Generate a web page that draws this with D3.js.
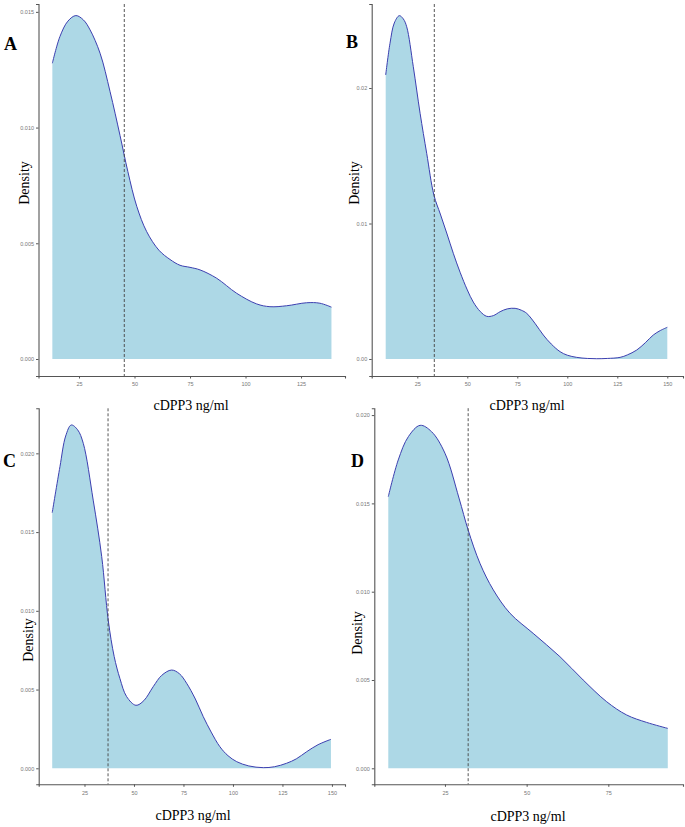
<!DOCTYPE html>
<html>
<head>
<meta charset="utf-8">
<script src="https://d3js.org/d3.v7.min.js"></script>
<style>
  body { margin: 0; background: #fff; }
  .tick text { font-family: "Liberation Sans", Arial, sans-serif; }
</style>
</head>
<body>
<svg id="fig" width="685" height="827"></svg>
<script>
// density curves (x = cDPP3 ng/ml, y = density)
var aX = [13, 16.4, 20, 23.6, 27, 30, 34.5, 39, 43.5, 47, 51, 55.5, 61, 66, 70.5, 75, 79.5, 87, 96, 105, 111, 118.5, 127.5, 133.5, 138.7];
var aY = [0.01278, 0.01393, 0.0146, 0.01484, 0.01465, 0.01422, 0.01321, 0.01155, 0.00965, 0.0081, 0.0066, 0.0055, 0.0047, 0.0043, 0.00405, 0.00396, 0.00385, 0.00349, 0.00284, 0.00238, 0.00226, 0.0023, 0.00243, 0.00241, 0.00224];

var bX = [9.2, 11.35, 13.5, 16, 18, 19.7, 23, 26.4, 29.7, 33.3, 36.5, 39.7, 43, 46.4, 50, 53, 56.5, 59.7, 63, 66.4, 70, 73.9, 77, 79.7, 84, 88, 92, 96.4, 100, 104.7, 110, 114.7, 120, 126.4, 130, 134.7, 139, 143, 146.5, 150];
var bY = [0.02096, 0.0233, 0.0248, 0.02534, 0.0251, 0.02452, 0.02157, 0.01813, 0.01518, 0.0121, 0.0107, 0.0093, 0.0078, 0.0064, 0.0051, 0.0042, 0.0035, 0.00315, 0.0032, 0.00349, 0.0037, 0.00374, 0.0036, 0.00337, 0.0026, 0.00177, 0.0011, 0.00054, 0.00028, 0.00012, 0.00004, 0.00002, 0.00004, 0.00012, 0.0003, 0.00066, 0.0012, 0.00177, 0.0021, 0.00234];

var cX = [8.7, 12.6, 15.5, 18.3, 21.5, 24.4, 29.4, 33.7, 37, 40, 42.9, 46.3, 51, 55, 59.7, 64, 69, 73, 76.6, 81, 85, 89, 93.4, 97.5, 101.9, 108, 115.3, 121, 127.1, 132, 137.2, 143, 149.5];
var cY = [0.01623, 0.01915, 0.0211, 0.0218, 0.0215, 0.02063, 0.01703, 0.01344, 0.0094, 0.0071, 0.0057, 0.00455, 0.0040, 0.0043, 0.00518, 0.0059, 0.00624, 0.006, 0.0054, 0.0044, 0.00328, 0.0023, 0.00137, 0.0008, 0.00042, 0.00015, 0.00004, 0.0001, 0.00032, 0.0006, 0.00105, 0.0015, 0.00184];

var dX = [7.65, 10.7, 13.8, 17.4, 20.9, 25, 29.3, 32.1, 35.7, 39.8, 44.9, 52, 60.2, 67.3, 74.5, 80.6, 86.7, 93.2];
var dY = [0.01538, 0.01746, 0.01878, 0.01942, 0.01906, 0.01784, 0.0153, 0.01349, 0.01161, 0.0101, 0.00878, 0.00764, 0.00632, 0.005, 0.00377, 0.00302, 0.0026, 0.00226];

// dashed cut-off lines
var cutoffs = [45.4, 33.5, 36.9, 32.1];

// tick labels
var aXTicks = [25, 50, 75, 100, 125];
var bXTicks = [25, 50, 75, 100, 125, 150];
var cXTicks = [25, 50, 75, 100, 125, 150];
var dXTicks = [25, 50, 75];
var aYTicks = [0, 0.005, 0.010, 0.015];
var bYTicks = [0, 0.01, 0.02];
var cYTicks = [0, 0.005, 0.010, 0.015, 0.020];
var dYTicks = [0, 0.005, 0.010, 0.015, 0.020];

var panels = [
  {letter: "A", xs: aX, ys: aY, cut: cutoffs[0], xt: aXTicks, yt: aYTicks, yf: ".3f",
   px: [38.5, 345], py: [376, 4], xd: [6.76, 144.8], yd: [-0.000735, 0.01534],
   lab: [4, 50], ylab: [24, 183], xlab: [191, 410]},
  {letter: "B", xs: bX, ys: bY, cut: cutoffs[1], xt: bXTicks, yt: bYTicks, yf: ".2f",
   px: [371.7, 683], py: [376, 4], xd: [2.2, 157.85], yd: [-0.001255, 0.02620],
   lab: [346, 48], ylab: [354, 183], xlab: [527, 410]},
  {letter: "C", xs: cX, ys: cY, cut: cutoffs[2], xt: cXTicks, yt: cYTicks, yf: ".3f",
   px: [38.7, 345], py: [784.3, 408.3], xd: [1.87, 156.6], yd: [-0.001016, 0.02286],
   lab: [3, 467], ylab: [28, 640], xlab: [193, 820]},
  {letter: "D", xs: dX, ys: dY, cut: cutoffs[3], xt: dXTicks, yt: dYTicks, yf: ".3f",
   px: [374.3, 683], py: [784.3, 408.2], xd: [3.37, 97.86], yd: [-0.000906, 0.02039],
   lab: [351, 467], ylab: [357, 633], xlab: [528, 821]}
];

var svg = d3.select("#fig");

panels.forEach(function(p) {
  var x = d3.scaleLinear().domain(p.xd).range(p.px);
  var y = d3.scaleLinear().domain(p.yd).range(p.py);
  var pts = p.xs.map(function(v, i) { return [v, p.ys[i]]; });
  var g = svg.append("g");
  var curve = d3.curveCatmullRom.alpha(0.5);

  // filled density
  g.append("path")
    .datum(pts)
    .attr("fill", "#add8e6")
    .attr("d", d3.area()
      .x(function(d) { return x(d[0]); })
      .y0(y(0))
      .y1(function(d) { return y(d[1]); })
      .curve(curve));

  // outline of the curve
  g.append("path")
    .datum(pts)
    .attr("fill", "none")
    .attr("stroke", "#3c3fb0")
    .attr("stroke-width", 1)
    .attr("d", d3.line()
      .x(function(d) { return x(d[0]); })
      .y(function(d) { return y(d[1]); })
      .curve(curve));

  // cut-off
  g.append("line")
    .attr("x1", x(p.cut)).attr("x2", x(p.cut))
    .attr("y1", p.py[1]).attr("y2", p.py[0])
    .attr("stroke", "#444")
    .attr("stroke-width", 0.9)
    .attr("stroke-dasharray", "3,2");

  // axes
  var xa = g.append("g")
    .attr("transform", "translate(0," + p.py[0] + ")")
    .call(d3.axisBottom(x).tickValues(p.xt).tickSize(2.5).tickPadding(4));
  var ya = g.append("g")
    .attr("transform", "translate(" + p.px[0] + ",0)")
    .call(d3.axisLeft(y).tickValues(p.yt).tickFormat(d3.format(p.yf)).tickSize(2.5).tickPadding(2));
  [xa, ya].forEach(function(a) {
    a.select(".domain").attr("stroke", "#555").attr("stroke-width", 1.1);
    a.selectAll(".tick line").attr("stroke", "#555");
    a.selectAll(".tick text").attr("fill", "#777").style("font-size", "5.5px");
  });

  // titles
  g.append("text")
    .attr("transform", "translate(" + p.ylab[0] + "," + p.ylab[1] + ") rotate(-90)")
    .attr("text-anchor", "middle")
    .attr("dy", "0.35em")
    .style("font-family", "'Liberation Serif', 'Times New Roman', serif")
    .style("font-size", "14px")
    .text("Density");
  g.append("text")
    .attr("x", p.xlab[0]).attr("y", p.xlab[1])
    .attr("text-anchor", "middle")
    .style("font-family", "'Liberation Serif', 'Times New Roman', serif")
    .style("font-size", "14px")
    .text("cDPP3 ng/ml");
  g.append("text")
    .attr("x", p.lab[0]).attr("y", p.lab[1])
    .style("font-family", "'Liberation Serif', 'Times New Roman', serif")
    .style("font-weight", "bold")
    .style("font-size", "18px")
    .text(p.letter);
});
</script>
</body>
</html>
